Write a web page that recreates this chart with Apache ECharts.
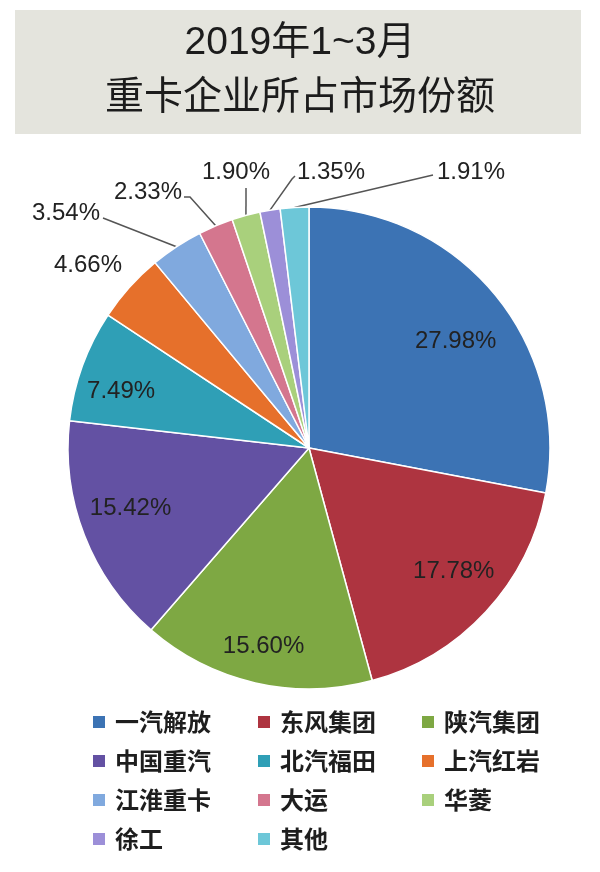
<!DOCTYPE html>
<html>
<head>
<meta charset="utf-8">
<script src="https://cdn.jsdelivr.net/npm/echarts@6/dist/echarts.min.js"></script>
<style>
html,body{margin:0;padding:0;background:#fff;}
#chart{width:600px;height:872px;}
</style>
</head>
<body>
<div id="chart"></div>
<script>
// ---- data ----
const titleLines = ['2019年1~3月', '重卡企业所占市场份额'];
const companies = ['一汽解放','东风集团','陕汽集团','中国重汽','北汽福田','上汽红岩','江淮重卡','大运','华菱','徐工','其他'];
const shares = [27.98, 17.78, 15.60, 15.42, 7.49, 4.66, 3.54, 2.33, 1.90, 1.35, 1.91];
const colors = ['#3c73b4','#ae3440','#7ea843','#6351a3','#2f9fb6','#e6702b','#80a9de','#d4768e','#a9d07c','#9c8fd8','#6dc7d8'];
const legendColumns = [
  ['一汽解放','中国重汽','江淮重卡','徐工'],
  ['东风集团','北汽福田','大运','其他'],
  ['陕汽集团','上汽红岩','华菱']
];

// ---- layout ----
const CX = 309, CY = 448, R = 241;
const insideRatio = 0.79;
// small nudges of inside labels (px) from the computed radial spot
const insideNudge = {0: [0, 15], 1: [5, -6], 2: [-3, 13], 3: [-1, -9], 4: [-9, 9]};
// outside label anchors (text position) and leader line end points
const outsideLabels = {
  5: {x: 122, y: 265, align: 'right', line: null},
  6: {x: 100, y: 213, align: 'right', line: [[103, 218]]},
  7: {x: 182, y: 192, align: 'right', line: [[190, 197], [184, 197]]},
  8: {x: 236, y: 172, align: 'center', line: [[246, 188]]},
  9: {x: 297, y: 172, align: 'left', line: [[292, 179], [295, 176]]},
  10: {x: 437, y: 172, align: 'left', line: [[433, 175]]}
};

const pieData = companies.map((n, i) => {
  const outside = outsideLabels[i] !== undefined;
  return {
    name: n,
    value: shares[i],
    itemStyle: {color: colors[i]},
    label: {position: outside ? 'outside' : 'inside'},
    labelLine: {show: outside && outsideLabels[i].line !== null}
  };
});

const chart = echarts.init(document.getElementById('chart'), null, {renderer: 'canvas'});

const legendLeft = [86, 251, 415];
const legends = legendColumns.map((col, k) => ({
  orient: 'vertical',
  left: legendLeft[k],
  top: 705,
  itemWidth: 14,
  itemHeight: 14,
  itemGap: 15,
  icon: 'rect',
  selectedMode: false,
  data: col,
  textStyle: {
    fontSize: 24,
    fontWeight: 'bold',
    color: '#1e1e1e',
    fontFamily: 'Noto Sans CJK SC',
    padding: [0, 0, 0, 4]
  }
}));

chart.setOption({
  animation: false,
  backgroundColor: '#fff',
  graphic: [{
    type: 'rect',
    left: 15, top: 10,
    shape: {width: 566, height: 124},
    style: {fill: '#e4e4dd'},
    z: -1
  }],
  title: {
    text: titleLines.join('\n'),
    left: 'center',
    top: 16,
    padding: 0,
    textStyle: {
      fontSize: 39,
      lineHeight: 55,
      fontWeight: 'normal',
      color: '#1c1c1c',
      fontFamily: 'Liberation Sans, Noto Sans CJK SC'
    }
  },
  legend: legends,
  series: [{
    type: 'pie',
    center: [CX, CY],
    radius: R,
    startAngle: 90,
    clockwise: true,
    avoidLabelOverlap: false,
    itemStyle: {borderColor: '#ffffff', borderWidth: 1.5},
    label: {
      show: true,
      formatter: p => p.value.toFixed(2) + '%',
      fontSize: 24,
      color: '#222',
      fontFamily: 'Liberation Sans, Arial, sans-serif'
    },
    labelLine: {
      length: 10, length2: 10,
      lineStyle: {color: '#555', width: 1.5}
    },
    labelLayout: function (p) {
      const i = p.dataIndex;
      const o = outsideLabels[i];
      if (o === undefined) {
        const lx = p.labelRect.x + p.labelRect.width / 2;
        const ly = p.labelRect.y + p.labelRect.height / 2;
        const dx = lx - CX, dy = ly - CY;
        const d = Math.sqrt(dx * dx + dy * dy) || 1;
        const nd = insideNudge[i] || [0, 0];
        return {
          x: CX + dx / d * R * insideRatio + nd[0],
          y: CY + dy / d * R * insideRatio + nd[1],
          align: 'center',
          verticalAlign: 'middle'
        };
      }
      const res = {x: o.x, y: o.y, align: o.align, verticalAlign: 'middle'};
      if (o.line && p.labelLinePoints) {
        const pts = [p.labelLinePoints[0]].concat(o.line);
        if (pts.length < 3) pts.push(o.line[o.line.length - 1]);
        res.labelLinePoints = pts;
      }
      return res;
    },
    data: pieData
  }]
});
</script>
</body>
</html>
